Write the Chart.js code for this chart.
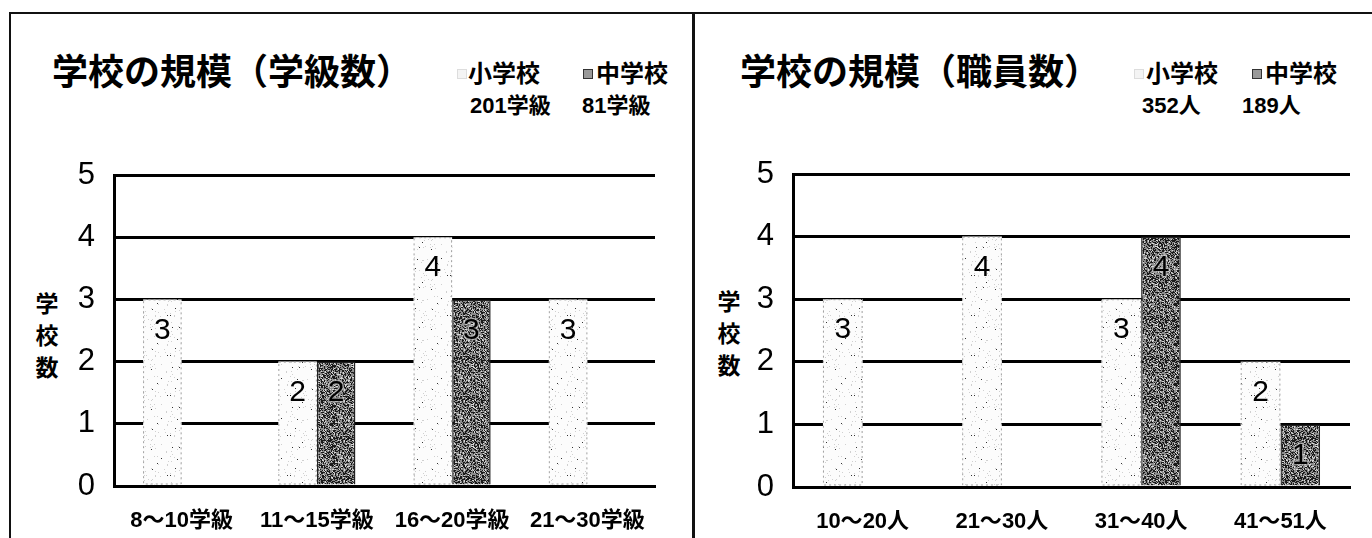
<!DOCTYPE html>
<html>
<head>
<meta charset="utf-8">
<script src="https://cdn.jsdelivr.net/npm/chart.js@4.4.1/dist/chart.umd.min.js"></script>
<style>
    body { margin: 0; width: 1372px; height: 538px; overflow: hidden; position: relative; background: #fff;
           font-family: 'Liberation Sans', 'Noto Sans CJK JP', sans-serif; color: #000; }
    .frame { position: absolute; left: 9px; top: 12px; width: 1400px; height: 600px;
             border-left: 2px solid #111; border-top: 2px solid #111; }
    .divider { position: absolute; left: 692px; top: 12px; width: 3px; height: 540px; background: #111; }
    .t { position: absolute; white-space: nowrap; line-height: 1; }
    .title { font-family: 'Noto Sans CJK JP', sans-serif; font-weight: 700; font-size: 36px; }
    .leg { font-family: 'Noto Sans CJK JP', sans-serif; font-weight: 700; font-size: 24px; }
    .tot { font-weight: 700; font-size: 22px; }
    .ytitle { font-family: 'Noto Sans CJK JP', sans-serif; font-weight: 700; font-size: 23px; line-height: 32px; width: 26px; text-align: center; }
    .mark { position: absolute; width: 8px; height: 8px; border: 1px solid #333; background: #999; }
    .mark.light { border-color: #ddd; background: #f4f4f4; }
    canvas { position: absolute; }
</style>
</head>
<body>
<div class="frame"></div>
<div class="divider"></div>

<div class="t title" style="left:52px;top:51px;">学校の規模（学級数）</div>
<div class="mark light" style="left:457px;top:69px;"></div>
<div class="t leg" id="legA1" style="left:468px;top:60px;"></div>
<div class="mark" style="left:583px;top:69px;"></div>
<div class="t leg" id="legA2" style="left:596px;top:60px;"></div>
<div class="t tot" id="totA1" style="left:470px;top:95px;"></div>
<div class="t tot" id="totA2" style="left:582px;top:95px;"></div>
<div class="t ytitle" style="left:34px;top:286px;">学<br>校<br>数</div>

<div class="t title" style="left:740px;top:51px;">学校の規模（職員数）</div>
<div class="mark light" style="left:1134px;top:69px;"></div>
<div class="t leg" id="legB1" style="left:1146px;top:60px;"></div>
<div class="mark" style="left:1252px;top:69px;"></div>
<div class="t leg" id="legB2" style="left:1265px;top:60px;"></div>
<div class="t tot" id="totB1" style="left:1142px;top:95px;"></div>
<div class="t tot" id="totB2" style="left:1242px;top:95px;"></div>
<div class="t ytitle" style="left:716px;top:284px;">学<br>校<br>数</div>

<canvas id="classChart" width="680" height="524" style="left:12px;top:14px;"></canvas>
<canvas id="staffChart" width="676" height="524" style="left:696px;top:14px;"></canvas>

<script>
// data
const seriesNames = ['小学校', '中学校'];
const yTicks = [0, 1, 2, 3, 4, 5];

const classCategories = ['8～10学級', '11～15学級', '16～20学級', '21～30学級'];
const classElementary = [3, 2, 4, 3];
const classJunior = [0, 2, 3, 0];
const classTotals = ['201学級', '81学級'];

const staffCategories = ['10～20人', '21～30人', '31～40人', '41～51人'];
const staffElementary = [3, 4, 3, 2];
const staffJunior = [0, 0, 4, 1];
const staffTotals = ['352人', '189人'];

document.getElementById('legA1').textContent = seriesNames[0];
document.getElementById('legA2').textContent = seriesNames[1];
document.getElementById('legB1').textContent = seriesNames[0];
document.getElementById('legB2').textContent = seriesNames[1];
document.getElementById('totA1').textContent = classTotals[0];
document.getElementById('totA2').textContent = classTotals[1];
document.getElementById('totB1').textContent = staffTotals[0];
document.getElementById('totB2').textContent = staffTotals[1];

const FONT = "'Liberation Sans', 'Noto Sans CJK JP', sans-serif";

// speckled textures like the printed hatching
function makeTexture(base, specks, seed) {
    const c = document.createElement('canvas');
    c.width = 40; c.height = 40;
    const g = c.getContext('2d');
    g.fillStyle = base;
    g.fillRect(0, 0, 40, 40);
    let s = seed;
    const next = () => { s = (s * 16807) % 2147483647; return s / 2147483647; };
    for (let y = 0; y < 40; y++) {
        for (let x = 0; x < 40; x++) {
            const r = next();
            let acc = 0;
            for (const sp of specks) {
                acc += sp[1];
                if (r < acc) { g.fillStyle = sp[0]; g.fillRect(x, y, 1, 1); break; }
            }
        }
    }
    return g.createPattern(c, 'repeat');
}

const lightFill = makeTexture('#fcfcfc', [['#d0d0d0', 0.025], ['#333', 0.006]], 7);
const darkFill = makeTexture('#8c8c8c', [['#1a1a1a', 0.40], ['#d8d8d8', 0.14]], 11);

const barDecor = {
    id: 'barDecor',
    afterDatasetsDraw(chart) {
        const ctx = chart.ctx;
        ctx.save();
        chart.data.datasets.forEach((ds, i) => {
            chart.getDatasetMeta(i).data.forEach((bar, j) => {
                const v = ds.data[j];
                if (!v) return;
                const half = bar.width / 2;
                if (i === 0) {
                    ctx.setLineDash([2, 3]);
                    ctx.strokeStyle = '#a0a0a0';
                    ctx.lineWidth = 1;
                    ctx.strokeRect(bar.x - half + 0.5, bar.y + 0.5, bar.width - 1, bar.base - bar.y - 1);
                    ctx.setLineDash([]);
                }
                ctx.font = '30px ' + FONT;
                ctx.textAlign = 'center';
                ctx.textBaseline = 'middle';
                if (i === 1) {
                    ctx.lineWidth = 3;
                    ctx.strokeStyle = 'rgba(200,200,200,0.7)';
                    ctx.strokeText(String(v), bar.x, bar.y + 31);
                }
                ctx.fillStyle = '#000';
                ctx.fillText(String(v), bar.x, bar.y + 31);
            });
        });
        ctx.restore();
    }
};

function drawSizeChart(canvasId, labels, elementary, junior, pad, yWidth, xHeight) {
    const ctx = document.getElementById(canvasId).getContext('2d');
    return new Chart(ctx, {
        type: 'bar',
        data: {
            labels: labels,
            datasets: [
                {
                    label: seriesNames[0],
                    data: elementary,
                    backgroundColor: lightFill,
                    borderWidth: 0,
                    categoryPercentage: 0.57,
                    barPercentage: 1.0
                },
                {
                    label: seriesNames[1],
                    data: junior,
                    backgroundColor: darkFill,
                    borderColor: '#222',
                    borderWidth: 1.5,
                    borderSkipped: 'start',
                    categoryPercentage: 0.57,
                    barPercentage: 1.0
                }
            ]
        },
        options: {
            responsive: false,
            animation: false,
            layout: { padding: pad },
            plugins: {
                legend: { display: false },
                tooltip: { enabled: false },
                title: { display: false }
            },
            scales: {
                x: {
                    grid: { display: false },
                    border: { display: true, color: '#000', width: 3 },
                    ticks: {
                        color: '#000',
                        padding: 14,
                        maxRotation: 0,
                        autoSkip: false,
                        font: { family: FONT, size: 22, weight: 'bold' }
                    },
                    afterFit(scale) { scale.height = xHeight; }
                },
                y: {
                    min: yTicks[0],
                    max: yTicks[yTicks.length - 1],
                    afterBuildTicks(scale) { scale.ticks = yTicks.map(v => ({ value: v })); },
                    grid: { color: '#000', lineWidth: 3, drawTicks: false },
                    border: { display: true, color: '#000', width: 3 },
                    ticks: {
                        color: '#000',
                        padding: 19,
                        font: { family: FONT, size: 31 }
                    },
                    afterFit(scale) { scale.width = yWidth; }
                }
            }
        },
        plugins: [barDecor]
    });
}

drawSizeChart('classChart', classCategories, classElementary, classJunior,
    { top: 161, right: 37, left: 0, bottom: 0 }, 102, 52);
drawSizeChart('staffChart', staffCategories, staffElementary, staffJunior,
    { top: 160, right: 22, left: 0, bottom: 0 }, 97, 51);
</script>
</body>
</html>
